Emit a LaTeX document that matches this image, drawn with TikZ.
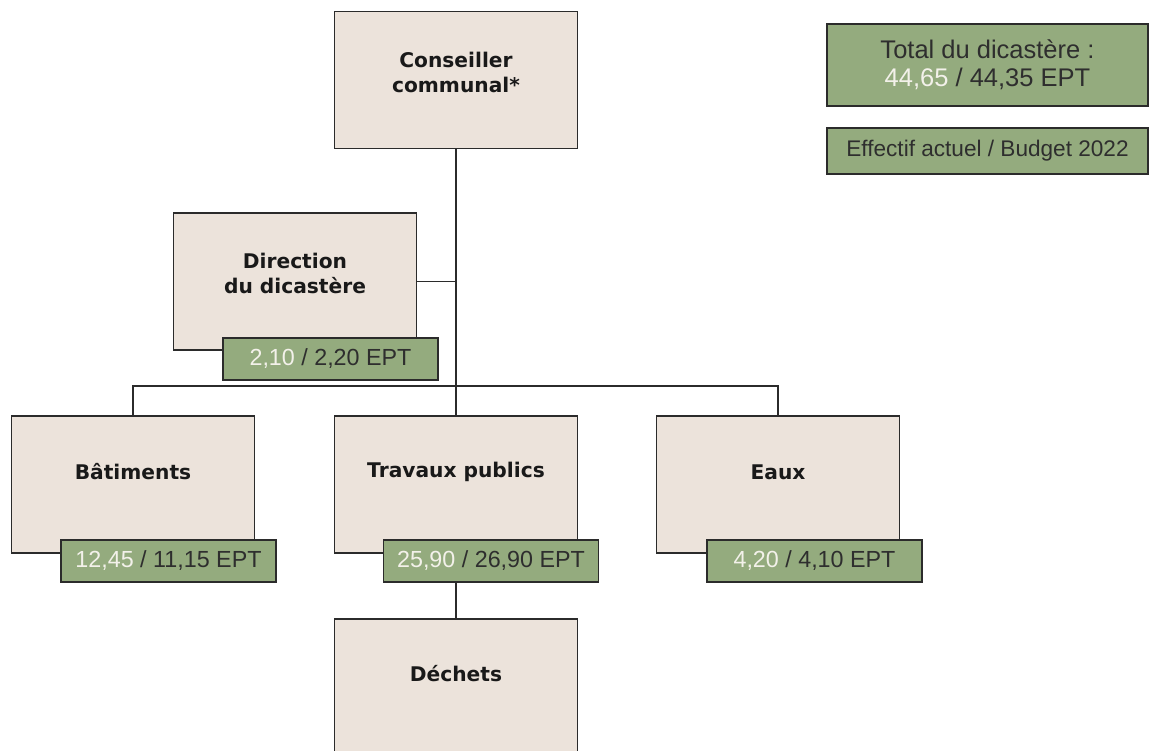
\documentclass[tikz,border=0pt]{standalone}
\usepackage{fontspec}
\setmainfont{Liberation Sans}
\newfontfamily\titlefont{DejaVu Sans}
\usepackage{tikz}
\usetikzlibrary{positioning,calc}
\usepackage{xcolor}
\definecolor{unitbg}{HTML}{ECE3DB}
\definecolor{eptgreen}{HTML}{94AB7E}
\definecolor{framegray}{HTML}{2B2B2B}
\definecolor{numwhite}{HTML}{F3F1EA}
\definecolor{epttext}{HTML}{2E2E2E}
\tikzstyle{unit} = [rectangle, draw=framegray, fill=unitbg, line width=1.8pt, sharp corners, %
minimum width=243, minimum height=137]
\tikzstyle{title} = [font=\titlefont\bfseries\fontsize{20.2}{25}\selectfont, text=black!90, align=center, inner sep=0]
\tikzstyle{ept} = [rectangle, draw=framegray, fill=eptgreen, line width=1.8pt, minimum width=215, %
minimum height=42, inner sep=0, font=\fontsize{23.3}{27}\selectfont, text=epttext]
\tikzstyle{link} = [draw=framegray, line width=1.6pt]
\newcommand{\eptval}[2]{{\color{numwhite}#1} / #2 EPT}

\begin{document}
\begin{tikzpicture}[x=1pt, y=-1pt]
    \useasboundingbox (0,0) rectangle (1149,751);
    \clip (0,0) rectangle (1149,751);
    % boxes
    \node[unit] (conseil) at (456,80) {};
    \node[title] (conseil-t) at (456,72) {Conseiller\\communal*};
    \node[unit] (direction) at (295,281.5) {};
    \node[title] (direction-t) at (295,273) {Direction\\du dicastère};
    \node[unit] (batiments) at (133,484.5) {};
    \node[title] (batiments-t) at (133,472) {Bâtiments};
    \node[unit] (travaux) at (456,484.5) {};
    \node[title] (travaux-t) at (456,472) {Travaux publics};
    \node[unit] (eaux) at (778,484.5) {};
    \node[title] (eaux-t) at (778,472) {Eaux};
    \node[unit, anchor=north, minimum height=160] (dechets) at (456,618) {};
    \node[title] (dechets-t) at (456,674) {Déchets};
    \coordinate (bar) at (456,386);
    % draw lines
    \path[link] (conseil.south) -- (travaux.north);
    \path[link] (direction.east) -- (direction.east -| conseil.south);
    \path[link] (batiments.north) |- (bar) -| (eaux.north);
    % EPT labels
    \node[ept] (direction-ept) at (330.5,359) {\eptval{2,10}{2,20}};
    \node[ept] (batiments-ept) at (168.5,561) {\eptval{12,45}{11,15}};
    \node[ept] (travaux-ept) at (491,561) {\eptval{25,90}{26,90}};
    \node[ept] (eaux-ept) at (814.5,561) {\eptval{4,20}{4,10}};
    \path[link] (dechets.north |- travaux-ept.south) -- (dechets.north);
    % legend
    \node[ept, minimum width=321, minimum height=82, align=center, font=\fontsize{25.5}{28}\selectfont] (total) at (987.5,65) {Total du dicastère :\\\eptval{44,65}{44,35}};
    \node[ept, minimum width=321, minimum height=46, font=\fontsize{22.6}{26}\selectfont] (legende) at (987.5,151) {Effectif actuel / Budget 2022};
\end{tikzpicture}
\end{document}
